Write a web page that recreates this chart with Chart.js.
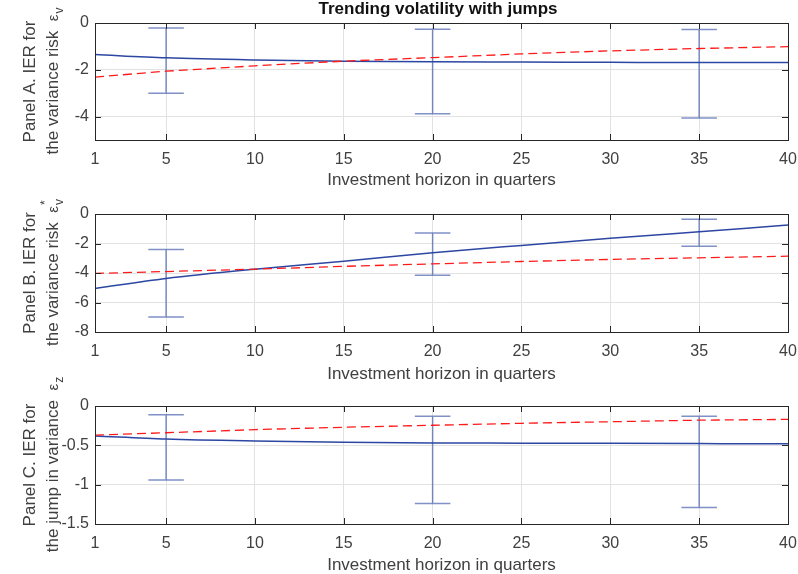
<!DOCTYPE html>
<html>
<head>
<meta charset="utf-8">
<script src="https://cdn.jsdelivr.net/npm/chart.js@4/dist/chart.umd.min.js"></script>
<style>
  html, body { margin: 0; padding: 0; background: #fff; }
  #wrap { position: relative; width: 798px; height: 574px; }
  #wrap canvas { position: absolute; left: 0; top: 0; }
</style>
</head>
<body>
<div id="wrap">
  <canvas id="panelA" width="798" height="574"></canvas>
  <canvas id="panelB" width="798" height="574"></canvas>
  <canvas id="panelC" width="798" height="574"></canvas>
</div>
<script>
// ===== data =====
var horizon = [1, 5, 10, 15, 20, 25, 30, 35, 40];
var xTicks = [1, 5, 10, 15, 20, 25, 30, 35, 40];
var errX = [5, 20, 35];

// Panel A
var blueA = [-1.35, -1.49, -1.58, -1.63, -1.66, -1.67, -1.68, -1.69, -1.69];
var redA = [-2.31, -2.06, -1.83, -1.63, -1.48, -1.32, -1.19, -1.09, -1.01];
var errHiA = [-0.21, -0.27, -0.28];
var errLoA = [-3.00, -3.88, -4.06];
var yTicksA = [-4, -2, 0];

// Panel B
var blueB = [-5.05, -4.37, -3.74, -3.20, -2.63, -2.13, -1.65, -1.20, -0.75];
var redB = [-4.03, -3.90, -3.74, -3.55, -3.38, -3.22, -3.08, -2.97, -2.86];
var errHiB = [-2.40, -1.29, -0.36];
var errLoB = [-6.98, -4.15, -2.18];
var yTicksB = [-8, -6, -4, -2, 0];

// Panel C
var blueC = [-0.38, -0.42, -0.445, -0.46, -0.47, -0.472, -0.475, -0.478, -0.48];
var redC = [-0.37, -0.34, -0.30, -0.27, -0.245, -0.22, -0.20, -0.18, -0.17];
var errHiC = [-0.11, -0.13, -0.13];
var errLoC = [-0.94, -1.24, -1.29];
var yTicksC = [-1.5, -1, -0.5, 0];

var FONT = "'Liberation Sans', Arial, Helvetica, sans-serif";
var TXT = '#404040';

function pts(xs, ys) {
  return xs.map(function(x, i) { return { x: x, y: ys[i] }; });
}

// 误差棒：竖线 + 上下横帽，中间用 null 断开
function errPts(xs, lo, hi, cap) {
  var out = [];
  xs.forEach(function(x, i) {
    out.push({ x: x, y: lo[i] }, { x: x, y: hi[i] }, { x: x, y: null });
    out.push({ x: x - cap, y: hi[i] }, { x: x + cap, y: hi[i] }, { x: x, y: null });
    out.push({ x: x - cap, y: lo[i] }, { x: x + cap, y: lo[i] }, { x: x, y: null });
  });
  return out;
}

// 坐标框 + 内向刻度 + 轴标题
var framePlugin = {
  id: 'frame',
  afterDraw: function(chart) {
    var o = chart.options.plugins.frame;
    var ctx = chart.ctx, a = chart.chartArea;
    var xs = chart.scales.x, ys = chart.scales.y;
    ctx.save();
    ctx.strokeStyle = '#262626';
    ctx.lineWidth = 1;
    ctx.beginPath();
    xs.ticks.forEach(function(t) {
      var px = Math.round(xs.getPixelForValue(t.value)) + 0.5;
      ctx.moveTo(px, a.bottom); ctx.lineTo(px, a.bottom - 6);
      ctx.moveTo(px, a.top); ctx.lineTo(px, a.top + 6);
    });
    ys.ticks.forEach(function(t) {
      var py = Math.round(ys.getPixelForValue(t.value)) + 0.5;
      ctx.moveTo(a.left, py); ctx.lineTo(a.left + 6, py);
      ctx.moveTo(a.right, py); ctx.lineTo(a.right - 6, py);
    });
    ctx.stroke();
    ctx.strokeRect(Math.round(a.left) + 0.5, Math.round(a.top) + 0.5,
      Math.round(a.right - a.left), Math.round(a.bottom - a.top));

    // x 轴标题
    ctx.fillStyle = TXT;
    ctx.font = '17px ' + FONT;
    ctx.textAlign = 'center';
    ctx.textBaseline = 'middle';
    ctx.fillText(o.xTitle, (a.left + a.right) / 2, o.xTitleY);

    // 总标题
    if (o.title) {
      ctx.fillStyle = '#111';
      ctx.font = 'bold 17px ' + FONT;
      ctx.fillText(o.title, o.titleX, o.titleY);
    }

    // y 轴标题（两行，旋转）
    var midY = (a.top + a.bottom) / 2;
    ctx.fillStyle = TXT;
    ctx.textAlign = 'left';
    ctx.textBaseline = 'alphabetic';
    // 第一行
    ctx.save();
    ctx.translate(o.line1X, midY);
    ctx.rotate(-Math.PI / 2);
    ctx.font = '17px ' + FONT;
    var w1 = ctx.measureText(o.line1).width;
    ctx.fillText(o.line1, -w1 / 2, 0);
    ctx.restore();
    // 第二行 + ε 下标
    ctx.save();
    ctx.translate(o.line2X, midY);
    ctx.rotate(-Math.PI / 2);
    ctx.font = '17px ' + FONT;
    var wMain = ctx.measureText(o.line2 + '  ').width;
    ctx.font = '15px ' + FONT;
    var wEps = ctx.measureText('\u03b5').width;
    ctx.font = '12px ' + FONT;
    var wSub = ctx.measureText(o.sub).width;
    var wSup = o.sup ? ctx.measureText(o.sup).width : 0;
    var total = wMain + wEps + Math.max(wSub, wSup);
    var s = -total / 2;
    ctx.font = '17px ' + FONT;
    ctx.fillText(o.line2, s, 0);
    ctx.font = '15px ' + FONT;
    ctx.fillText('\u03b5', s + wMain, 0);
    ctx.font = '12px ' + FONT;
    ctx.fillText(o.sub, s + wMain + wEps + 1, 5);
    if (o.sup) ctx.fillText(o.sup, s + wMain + wEps + 1, -9);
    ctx.restore();
    ctx.restore();
  }
};

function makePanel(id, cfg) {
  return new Chart(document.getElementById(id), {
    type: 'line',
    data: {
      datasets: [
        { data: pts(horizon, cfg.red), borderColor: '#ff1a1a', borderWidth: 1.3, borderDash: [9, 5],
          pointRadius: 0, fill: false, order: 0 },
        { data: pts(horizon, cfg.blue), borderColor: '#2c47a3', borderWidth: 1.5,
          cubicInterpolationMode: 'monotone', pointRadius: 0, fill: false, order: 1 },
        { data: errPts(errX, cfg.lo, cfg.hi, 1), borderColor: 'rgba(44,71,163,0.6)', borderWidth: 1.5,
          pointRadius: 0, fill: false, spanGaps: false, tension: 0, order: 2 }
      ]
    },
    options: {
      responsive: false,
      animation: false,
      devicePixelRatio: 1,
      layout: { padding: { left: 0, right: 10, top: cfg.top, bottom: 574 - cfg.bottom - 40 } },
      plugins: {
        legend: { display: false },
        tooltip: { enabled: false },
        frame: cfg.frame
      },
      scales: {
        x: {
          type: 'linear', min: 1, max: 40,
          afterBuildTicks: function(s) { s.ticks = xTicks.map(function(v) { return { value: v }; }); },
          afterFit: function(s) { s.height = 40; s.paddingLeft = 0; s.paddingRight = 0; },
          grid: { color: '#e2e2e2', drawTicks: false },
          border: { display: false },
          ticks: { color: TXT, font: { family: FONT, size: 16 }, padding: 10, maxRotation: 0,
            callback: function(v) { return String(v); } }
        },
        y: {
          type: 'linear', min: cfg.ymin, max: 0,
          afterBuildTicks: function(s) { s.ticks = cfg.yTicks.map(function(v) { return { value: v }; }); },
          afterFit: function(s) { s.width = 95; s.paddingTop = 0; s.paddingBottom = 0; },
          grid: { color: '#e2e2e2', drawTicks: false },
          border: { display: false },
          ticks: { color: TXT, font: { family: FONT, size: 16 }, padding: 6,
            callback: function(v) { return String(v); } }
        }
      }
    },
    plugins: [framePlugin]
  });
}

makePanel('panelA', {
  red: redA, blue: blueA, lo: errLoA, hi: errHiA, yTicks: yTicksA, ymin: -5, top: 23, bottom: 140,
  frame: { xTitle: 'Investment horizon in quarters', xTitleY: 180, title: 'Trending volatility with jumps',
    titleX: 438, titleY: 9, line1: 'Panel A. IER for', line1X: 35, line2: 'the variance risk', line2X: 58, sub: 'v' }
});
makePanel('panelB', {
  red: redB, blue: blueB, lo: errLoB, hi: errHiB, yTicks: yTicksB, ymin: -8, top: 214, bottom: 332,
  frame: { xTitle: 'Investment horizon in quarters', xTitleY: 374,
    line1: 'Panel B. IER for', line1X: 35, line2: 'the variance risk', line2X: 58, sub: 'v', sup: '*' }
});
makePanel('panelC', {
  red: redC, blue: blueC, lo: errLoC, hi: errHiC, yTicks: yTicksC, ymin: -1.5, top: 406, bottom: 524,
  frame: { xTitle: 'Investment horizon in quarters', xTitleY: 565,
    line1: 'Panel C. IER for', line1X: 35, line2: 'the jump in variance', line2X: 58, sub: 'z' }
});
</script>
</body>
</html>
